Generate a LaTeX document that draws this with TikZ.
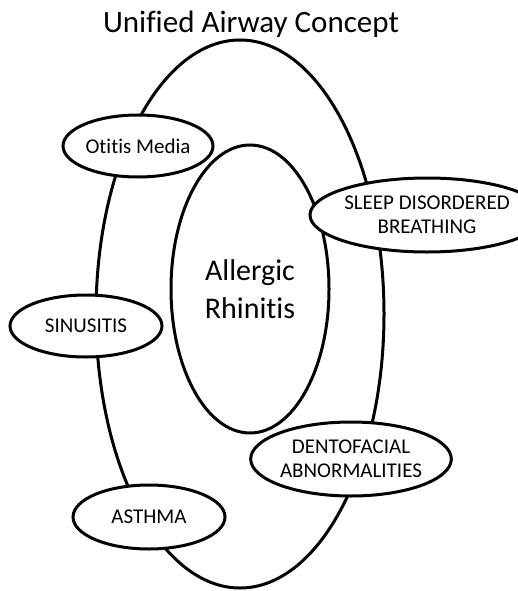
\documentclass[tikz,border=0pt]{standalone}
\usepackage{fontspec}
\setmainfont{Carlito}[Ligatures={NoCommon}]
\usetikzlibrary{shapes.geometric, positioning}

\tikzset{
  ring/.style={draw, ellipse, line width=3pt, inner sep=0pt},
  condition/.style={ring, fill=white, align=center, font=\fontsize{21}{24}\selectfont},
}

\begin{document}
\begin{tikzpicture}[x=1pt, y=-1pt]
  \useasboundingbox (0,0) rectangle (518,591);
  \node[font=\fontsize{31}{36}\selectfont, anchor=base] (title) at (251,33) {Unified Airway Concept};
  % the two big rings
  \node[ring, minimum width=288pt, minimum height=548pt] (airway) at (240,314) {};
  \node[ring, minimum width=158pt, minimum height=288pt, align=center, font=\fontsize{30}{38}\selectfont] (ar) at (250,289) {Allergic\\Rhinitis};
  % related conditions sitting on the outer ring
  \node[condition, minimum width=150pt, minimum height=62pt] (otitis) at (138,146) {Otitis Media};
  \node[condition, minimum width=178pt, minimum height=74pt] (sleep) at (427,215) {SLEEP DISORDERED\\BREATHING};
  \node[condition, minimum width=152pt, minimum height=62pt] (sinus) at (86,326) {SINUSITIS};
  \node[condition, minimum width=172pt, minimum height=74pt] (dento) at (351,459) {DENTOFACIAL\\ABNORMALITIES};
  \node[condition, minimum width=152pt, minimum height=64pt] (asthma) at (149,517) {ASTHMA};
\end{tikzpicture}
\end{document}
